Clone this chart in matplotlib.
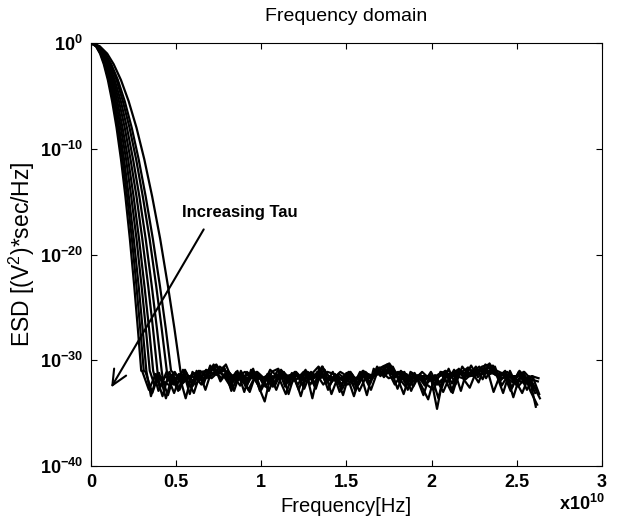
import matplotlib.pyplot as plt
import numpy as np

plt.rcParams['font.family'] = 'Liberation Sans'
plt.rcParams['mathtext.fontset'] = 'custom'
plt.rcParams['mathtext.rm'] = 'Liberation Sans'
plt.rcParams['mathtext.bf'] = 'Liberation Sans:bold'

# log10(ESD) levels along the roll-off, shared by all curves
decay_levels = [0, -0.3, -1, -2, -3.5, -5.5, -8, -11, -14.5, -18.5, -23, -27, -31]

# frequency (x1e10 Hz) where each curve crosses the levels above, one row per Tau
decay_freq = [
    [0, .029, .053, .075, .099, .124, .150, .176, .202, .228, .254, .275, .295],
    [0, .030, .056, .079, .104, .131, .157, .185, .212, .240, .267, .289, .310],
    [0, .032, .059, .083, .109, .137, .165, .194, .222, .251, .280, .303, .325],
    [0, .034, .062, .088, .116, .145, .175, .206, .236, .267, .297, .322, .345],
    [0, .036, .066, .093, .123, .154, .185, .218, .250, .282, .314, .341, .365],
    [0, .038, .070, .099, .131, .164, .198, .232, .267, .301, .336, .364, .390],
    [0, .041, .075, .105, .139, .175, .211, .247, .284, .321, .357, .387, .415],
    [0, .044, .080, .113, .150, .187, .226, .265, .304, .344, .383, .415, .445],
    [0, .046, .085, .119, .158, .198, .239, .280, .321, .363, .405, .439, .470],
    [0, .051, .095, .133, .176, .221, .267, .313, .359, .406, .452, .490, .525],
]

# noise floor frequencies (x1e10 Hz)
floor_freq = [0.30, 0.34, 0.38, 0.42, 0.46, 0.50, 0.54, 0.58, 0.62, 0.66,
              0.70, 0.74, 0.78, 0.82, 0.86, 0.90, 0.94, 0.98, 1.02, 1.06,
              1.10, 1.14, 1.18, 1.22, 1.26, 1.30, 1.34, 1.38, 1.42, 1.46,
              1.50, 1.54, 1.58, 1.62, 1.66, 1.70, 1.74, 1.78, 1.82, 1.86,
              1.90, 1.94, 1.98, 2.02, 2.06, 2.10, 2.14, 2.18, 2.22, 2.26,
              2.30, 2.34, 2.38, 2.42, 2.46, 2.50, 2.54, 2.58, 2.62]

# each curve samples the floor a little apart from the others (x1e10 Hz)
floor_offset = [0.0, -0.02, 0.012, -0.008, 0.016, -0.016, 0.004, -0.012, 0.008, -0.004]

# log10(ESD) of the noise floor, one row per curve
floor_levels = [
    [-31.0, -32.8, -31.3, -33.4, -31.1, -32.5, -30.9, -33.2, -31.0, -32.3,
     -30.5, -31.4, -30.6, -32.6, -31.0, -33.0, -30.9, -32.3, -33.9, -31.1,
     -30.8, -32.5, -31.2, -32.8, -30.9, -33.6, -30.7, -32.2, -31.1, -33.0,
     -31.2, -32.4, -31.1, -33.3, -30.8, -31.5, -30.4, -31.7, -31.0, -32.8,
     -31.2, -32.4, -33.7, -31.4, -32.6, -30.8, -32.3, -30.6, -31.5, -30.6,
     -31.8, -30.3, -31.3, -33.1, -31.0, -32.4, -31.1, -32.9, -34.2],
    [-32.3, -31.1, -33.1, -31.2, -33.6, -31.3, -32.8, -31.2, -32.4, -31.0,
     -31.7, -30.4, -32.0, -31.1, -32.9, -31.0, -32.2, -31.1, -32.8, -31.5,
     -32.4, -31.0, -33.2, -31.1, -32.3, -31.2, -32.7, -30.6, -32.4, -31.4,
     -33.3, -31.1, -32.6, -31.0, -32.2, -30.6, -31.6, -30.8, -32.7, -31.1,
     -32.9, -31.4, -32.4, -31.5, -33.6, -31.0, -32.2, -30.8, -31.8, -31.2,
     -30.6, -31.7, -30.5, -32.0, -31.3, -33.5, -31.4, -32.8, -31.6],
    [-31.4, -33.4, -31.2, -32.3, -31.4, -32.9, -30.9, -32.2, -31.0, -32.8,
     -30.8, -31.2, -30.4, -32.0, -31.3, -32.6, -30.8, -32.9, -31.5, -32.4,
     -31.0, -32.0, -31.4, -33.4, -31.1, -32.4, -30.9, -32.8, -31.3, -32.3,
     -31.1, -32.9, -31.4, -32.1, -31.3, -30.6, -30.3, -31.3, -31.4, -32.4,
     -31.6, -33.3, -31.3, -34.6, -31.3, -31.7, -30.9, -31.7, -30.5, -31.6,
     -30.9, -30.6, -31.6, -31.0, -32.6, -31.1, -32.2, -31.5, -33.2],
    [-32.7, -31.2, -32.3, -31.6, -33.3, -31.1, -32.3, -31.6, -31.2, -31.9,
     -31.0, -30.5, -31.3, -32.3, -31.1, -31.9, -33.0, -31.1, -32.3, -30.9,
     -31.5, -31.1, -32.3, -31.3, -32.7, -31.1, -31.7, -30.9, -33.2, -31.5,
     -32.1, -31.3, -32.3, -31.1, -31.7, -30.7, -31.1, -30.6, -31.9, -31.3,
     -32.5, -31.3, -32.3, -32.8, -31.1, -32.1, -30.9, -32.9, -30.7, -31.3,
     -30.7, -31.1, -30.6, -32.4, -31.3, -31.9, -33.1, -31.5, -34.4],
    [-31.1, -32.3, -32.9, -31.5, -32.1, -31.3, -33.6, -31.1, -31.9, -30.9,
     -31.3, -30.6, -31.1, -31.5, -32.4, -31.1, -31.7, -32.7, -31.3, -32.1,
     -30.9, -32.1, -31.1, -31.7, -31.5, -32.1, -30.6, -31.5, -31.7, -32.7,
     -31.3, -31.9, -31.0, -31.7, -31.0, -31.3, -30.5, -31.5, -33.2, -31.1,
     -31.5, -32.1, -31.1, -32.3, -31.7, -33.0, -31.1, -31.3, -31.1, -32.1,
     -30.4, -31.0, -31.3, -31.5, -32.1, -31.0, -31.7, -32.3, -33.6],
    [-32.1, -31.5, -31.7, -32.6, -31.1, -32.3, -31.3, -31.8, -33.1, -31.1,
     -31.0, -30.8, -31.7, -31.0, -31.8, -31.3, -32.8, -31.5, -31.7, -32.9,
     -31.3, -31.5, -32.1, -31.1, -31.8, -31.5, -31.3, -32.3, -31.5, -32.1,
     -31.5, -31.1, -32.1, -31.5, -32.8, -31.0, -30.8, -31.3, -31.1, -32.1,
     -31.3, -31.7, -32.3, -31.7, -31.3, -31.0, -33.1, -31.0, -31.3, -31.1,
     -31.0, -30.7, -33.0, -31.3, -31.1, -31.7, -31.3, -32.1, -32.6],
    [-31.7, -32.8, -31.3, -32.0, -32.4, -31.7, -31.5, -32.5, -31.3, -31.7,
     -31.5, -30.9, -30.8, -32.9, -31.5, -31.1, -31.7, -31.3, -32.5, -31.5,
     -31.7, -33.2, -31.3, -31.5, -31.3, -31.7, -31.5, -31.8, -31.7, -31.1,
     -31.5, -33.4, -31.3, -31.3, -31.5, -31.1, -31.0, -32.3, -31.3, -31.5,
     -31.8, -31.1, -31.7, -32.3, -31.8, -31.5, -31.5, -31.7, -32.6, -31.0,
     -31.1, -31.3, -31.0, -31.3, -32.9, -31.5, -31.1, -31.8, -32.0],
    [-31.8, -31.7, -32.5, -31.8, -31.5, -33.1, -31.3, -31.7, -31.5, -32.3,
     -31.1, -31.3, -31.0, -31.1, -32.0, -31.7, -31.3, -31.8, -31.7, -31.3,
     -32.8, -31.1, -31.7, -31.8, -31.1, -32.3, -31.1, -31.5, -31.8, -31.7,
     -31.7, -31.5, -31.8, -31.3, -31.5, -31.3, -31.3, -31.0, -31.7, -32.5,
     -31.5, -31.5, -31.5, -32.0, -31.5, -31.3, -31.3, -31.1, -31.3, -31.5,
     -31.0, -31.0, -31.3, -31.7, -31.5, -31.5, -31.5, -31.7, -33.1],
    [-31.5, -31.8, -31.7, -31.5, -32.6, -31.5, -32.0, -31.5, -31.7, -31.3,
     -31.7, -31.1, -31.5, -31.7, -31.3, -31.7, -31.5, -31.5, -31.8, -32.5,
     -31.5, -31.5, -31.3, -31.7, -32.0, -31.5, -31.7, -31.1, -31.3, -31.8,
     -32.3, -31.7, -31.5, -31.7, -31.3, -31.1, -31.7, -31.5, -31.1, -31.5,
     -31.7, -31.8, -31.7, -31.8, -33.0, -31.5, -31.1, -31.5, -31.5, -31.3,
     -31.3, -31.1, -31.5, -31.3, -31.7, -32.5, -31.7, -31.5, -31.7],
    [-31.3, -32.1, -31.1, -32.9, -31.7, -31.0, -31.8, -31.5, -32.3, -31.3,
     -30.9, -30.4, -31.5, -31.8, -31.1, -32.1, -31.5, -31.1, -31.7, -32.0,
     -31.0, -31.7, -31.5, -32.3, -31.0, -31.3, -30.6, -31.7, -32.0, -31.3,
     -31.8, -31.5, -32.9, -31.5, -31.5, -30.7, -30.6, -31.3, -31.7, -31.5,
     -32.0, -31.7, -31.5, -32.3, -31.1, -31.5, -31.0, -31.1, -30.7, -31.3,
     -30.6, -30.4, -31.1, -31.7, -31.5, -31.8, -32.1, -31.7, -32.8],
]

xtick_vals = [0, 0.5, 1, 1.5, 2, 2.5, 3]
xtick_labels = ['0', '0.5', '1', '1.5', '2', '2.5', '3']
ytick_exps = [0, -10, -20, -30, -40]

fig = plt.figure(figsize=(6.25, 5.22), dpi=100)
ax = fig.add_axes([0.1456, 0.1073, 0.8174, 0.8103])

for i in range(len(decay_freq)):
    f_end = decay_freq[i][-1]
    fx = list(decay_freq[i])
    ly = list(decay_levels)
    for f, l in zip(floor_freq, floor_levels[i]):
        f = f + floor_offset[i]
        if f > f_end:
            fx.append(f)
            ly.append(l)
    ax.plot(np.array(fx) * 1e10, 10.0 ** np.array(ly), color='black', lw=1.6)

ax.set_yscale('log')
ax.set_xlim(0, 3e10)
ax.set_ylim(1e-40, 1e0)
ax.set_xticks([v * 1e10 for v in xtick_vals])
ax.set_xticklabels(xtick_labels, fontweight='bold', fontsize=13)
ax.set_yticks([10.0 ** e for e in ytick_exps])
ax.set_yticklabels([r'$\mathbf{10^{%d}}$' % e for e in ytick_exps], fontsize=13)
ax.yaxis.set_minor_locator(plt.NullLocator())
ax.tick_params(direction='in', top=True, right=True, length=4, width=0.8, pad=6)

ax.set_title('Frequency domain', fontsize=14, pad=16)
ax.set_xlabel('Frequency[Hz]', fontsize=14.5, labelpad=4)
ax.set_ylabel(r'ESD [(V$^2$)*sec/Hz]', fontsize=16.5, labelpad=2)
fig.text(0.968, 0.016, r'x$\mathbf{10^{10}}$', ha='right', va='bottom',
         fontsize=13, fontweight='bold')

ax.annotate('', xy=(0.11e10, 10.0 ** -32.8), xytext=(0.67e10, 10.0 ** -17.4),
            arrowprops=dict(arrowstyle='->,head_length=0.55,head_width=0.25',
                            color='black', lw=1.5, mutation_scale=20))
ax.text(0.875e10, 10.0 ** -16.0, 'Increasing Tau', ha='center', va='center',
        fontsize=12, fontweight='bold')

fig.savefig('out.png', dpi=100)
